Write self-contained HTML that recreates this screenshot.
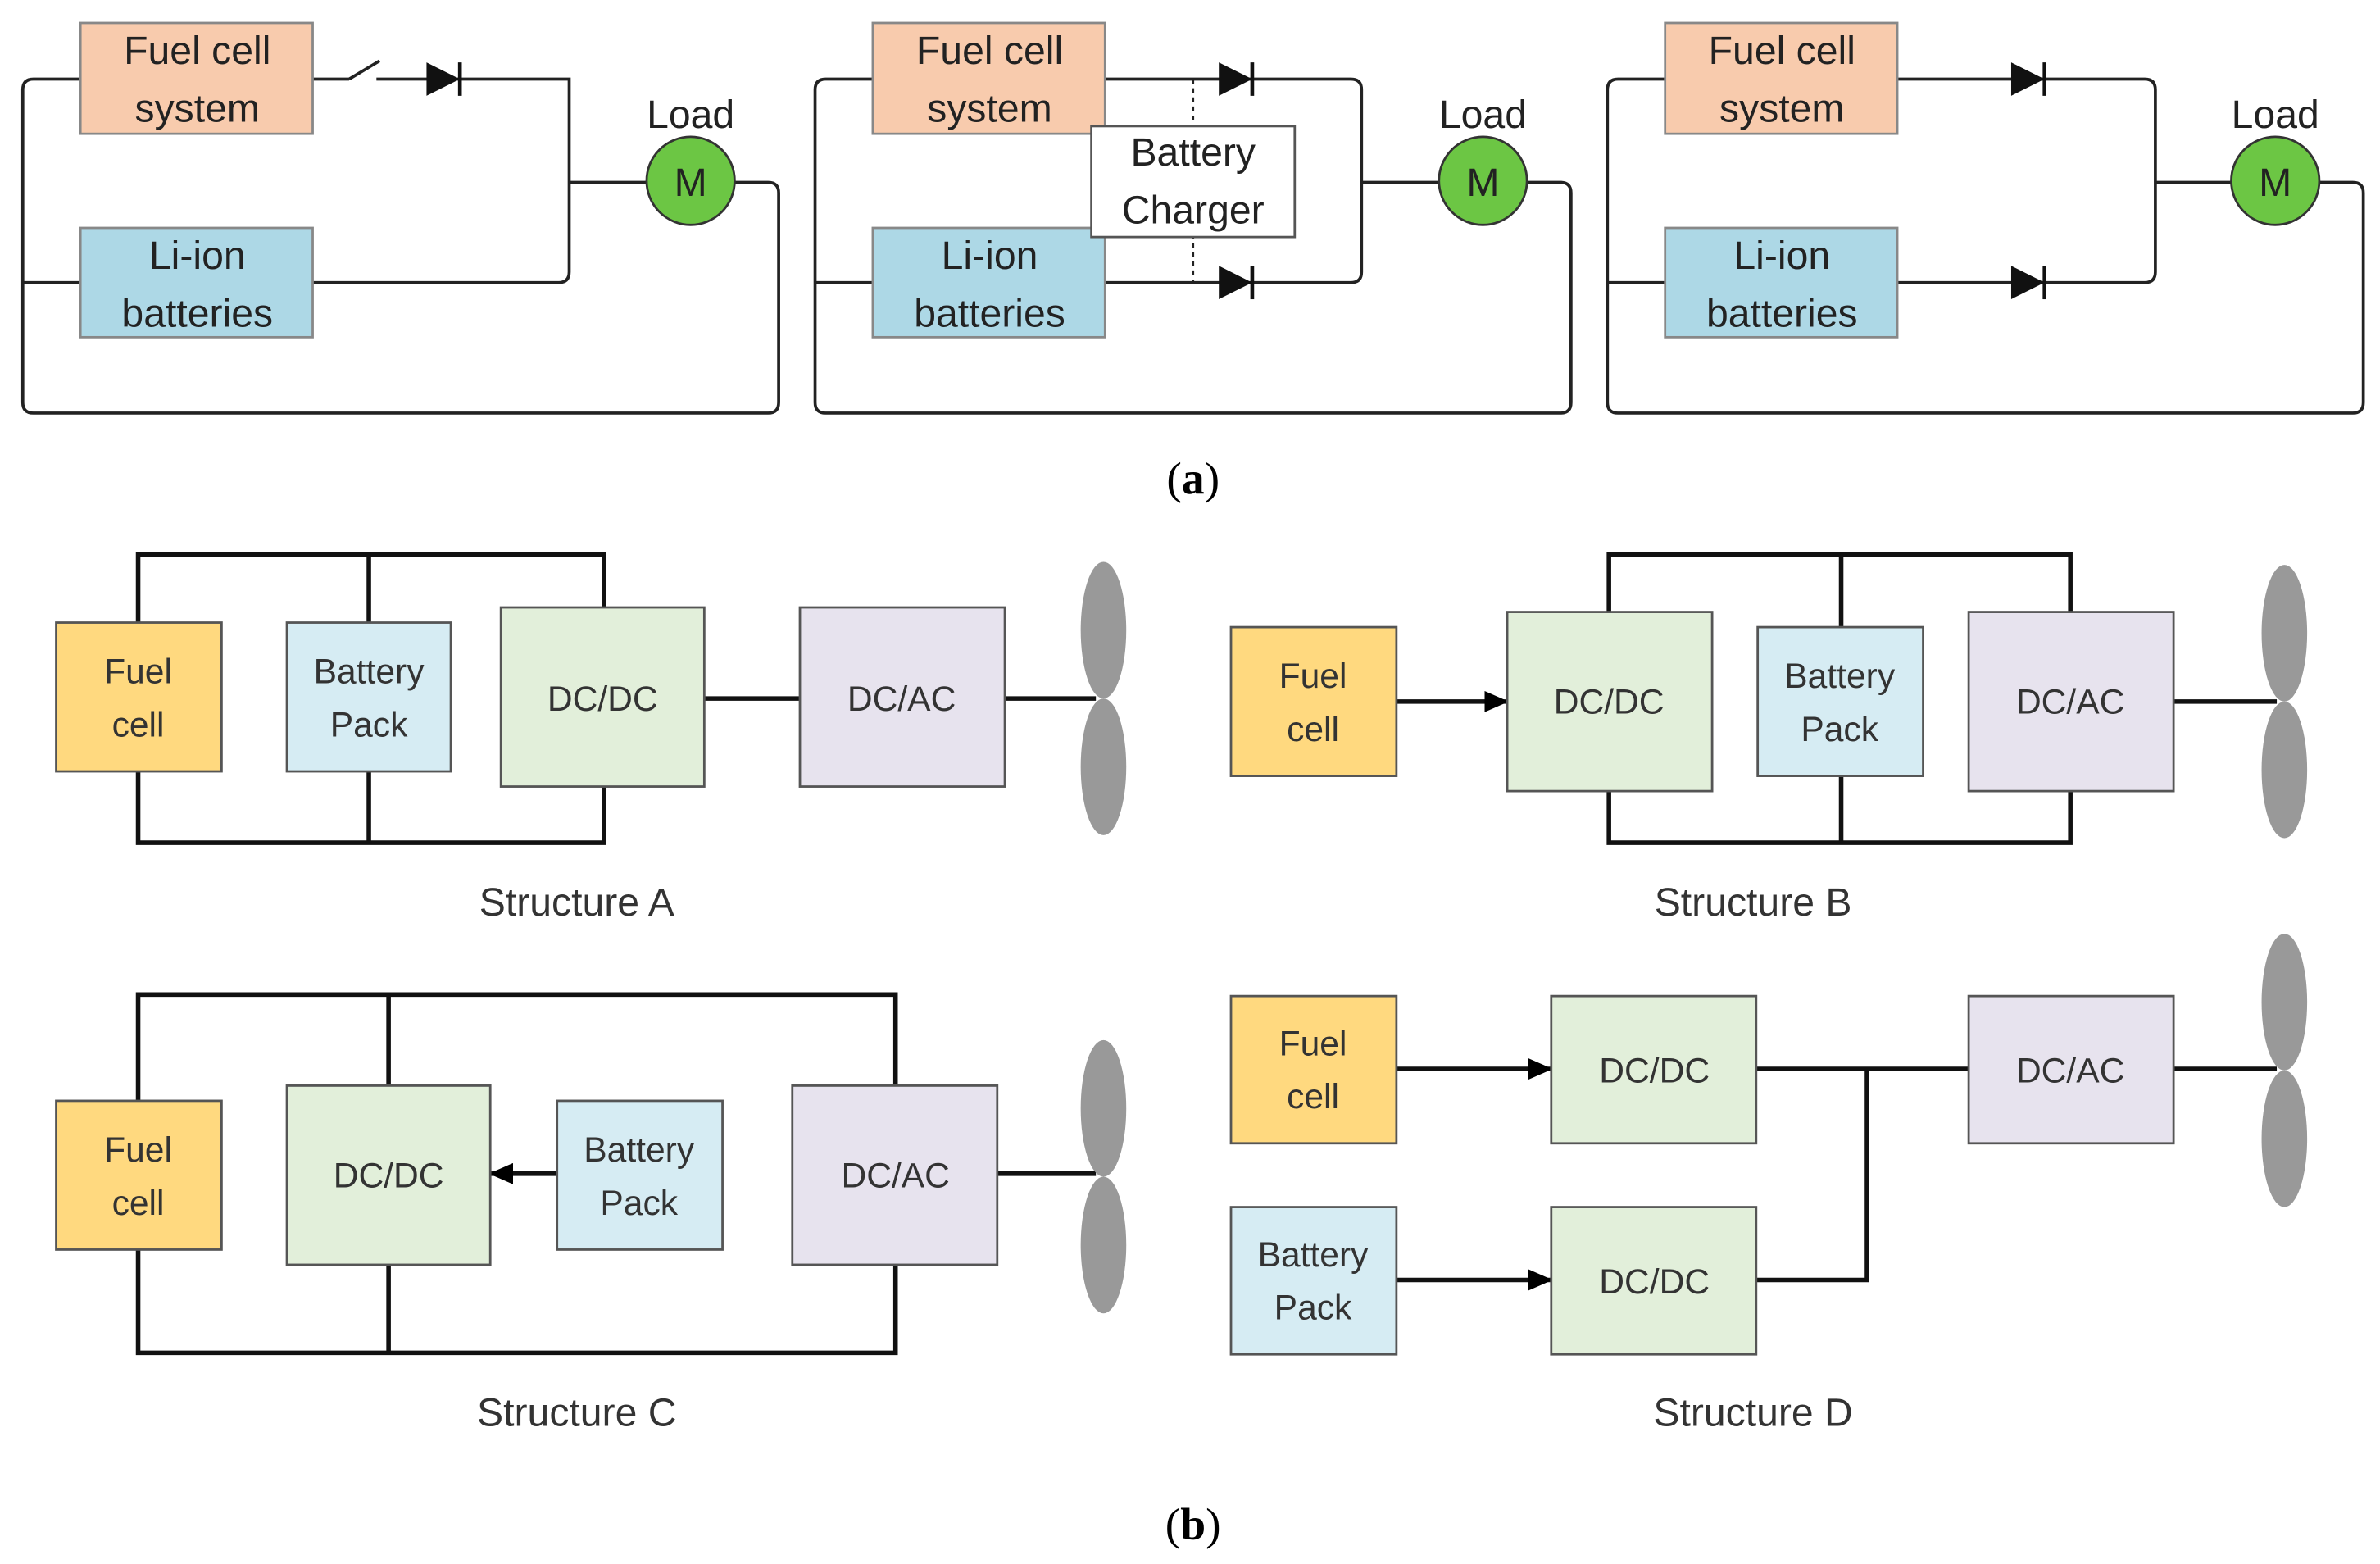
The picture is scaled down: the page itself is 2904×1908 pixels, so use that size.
<!DOCTYPE html>
<html><head><meta charset="utf-8"><style>html,body{margin:0;padding:0;background:#fff}svg{display:block}</style></head>
<body>
<svg width="2904" height="1908" viewBox="0 0 1568 1030" xmlns="http://www.w3.org/2000/svg" font-family="Liberation Sans, sans-serif">
<defs>
<marker id="ar" markerWidth="16" markerHeight="14" refX="15" refY="7" orient="auto" markerUnits="userSpaceOnUse"><path d="M0,0 L16,7 L0,14 z" fill="#000"/></marker>
<g id="dio"><path d="M0,-11 L22,0 L0,11 z" fill="#111"/><line x1="22" y1="-11" x2="22" y2="11" stroke="#111" stroke-width="2.5"/></g>
</defs>
<g fill="none" stroke="#222" stroke-width="2">
<path d="M53,52 H22 Q15,52 15,59 V265 Q15,272 22,272 H506 Q513,272 513,265 V127 Q513,120 506,120 H484"/>
<path d="M15,186 H53"/>
<path d="M206,52 H230 M230,52 L250,40 M248,52 H375 Q375,52 375,59 V179 Q375,186 368,186 H206"/>
<path d="M375,120 H426"/>
<path d="M575,52 H544 Q537,52 537,59 V265 Q537,272 544,272 H1028 Q1035,272 1035,265 V127 Q1035,120 1028,120 H1006"/>
<path d="M537,186 H575"/>
<path d="M728,52 H890 Q897,52 897,59 V179 Q897,186 890,186 H728"/>
<path d="M897,120 H948"/>
<path d="M786,52 V186" stroke-dasharray="3,3" stroke-width="1.5"/>
<path d="M1097,52 H1066 Q1059,52 1059,59 V265 Q1059,272 1066,272 H1550 Q1557,272 1557,265 V127 Q1557,120 1550,120 H1528"/>
<path d="M1059,186 H1097"/>
<path d="M1250,52 H1413 Q1420,52 1420,59 V179 Q1420,186 1413,186 H1250"/>
<path d="M1420,120 H1470"/>
</g>
<use href="#dio" x="281" y="52"/>
<use href="#dio" x="803" y="52"/><use href="#dio" x="803" y="186"/>
<use href="#dio" x="1325" y="52"/><use href="#dio" x="1325" y="186"/>
<g stroke="#888" stroke-width="1.5">
<rect x="53" y="15" width="153" height="73" fill="#f8cbad"/>
<rect x="53" y="150" width="153" height="72" fill="#add8e6"/>
<rect x="575" y="15" width="153" height="73" fill="#f8cbad"/>
<rect x="575" y="150" width="153" height="72" fill="#add8e6"/>
<rect x="1097" y="15" width="153" height="73" fill="#f8cbad"/>
<rect x="1097" y="150" width="153" height="72" fill="#add8e6"/>
<rect x="719" y="83" width="134" height="73" fill="#fff" stroke="#555"/>
</g>
<g fill="#6cc644" stroke="#333" stroke-width="1.5">
<circle cx="455" cy="119" r="29"/><circle cx="977" cy="119" r="29"/><circle cx="1499" cy="119" r="29"/>
</g>
<g font-size="26" text-anchor="middle" fill="#222">
<text x="130" y="42">Fuel cell</text><text x="130" y="80">system</text>
<text x="130" y="177">Li-ion</text><text x="130" y="215">batteries</text>
<text x="652" y="42">Fuel cell</text><text x="652" y="80">system</text>
<text x="652" y="177">Li-ion</text><text x="652" y="215">batteries</text>
<text x="1174" y="42">Fuel cell</text><text x="1174" y="80">system</text>
<text x="1174" y="177">Li-ion</text><text x="1174" y="215">batteries</text>
<text x="786" y="109">Battery</text><text x="786" y="147">Charger</text>
<text x="455" y="84">Load</text><text x="977" y="84">Load</text><text x="1499" y="84">Load</text>
<text x="455" y="129">M</text><text x="977" y="129">M</text><text x="1499" y="129">M</text>
</g>
<text x="786" y="325" font-size="30" text-anchor="middle" font-family="Liberation Serif, serif">(<tspan font-weight="bold">a</tspan>)</text>
<text x="786" y="1014" font-size="30" text-anchor="middle" font-family="Liberation Serif, serif">(<tspan font-weight="bold">b</tspan>)</text>
<g fill="none" stroke="#111" stroke-width="3">
<path d="M91,410 V365 H398 V400 M243,365 V410"/>
<path d="M91,508 V555 H398 V518 M243,508 V555"/>
<path d="M464,460 H527 M662,460 H722"/>
<path d="M1060,403 V365 H1364 V403 M1213,365 V413"/>
<path d="M1060,521 V555 H1364 V521 M1213,511 V555"/>
<path d="M1432,462 H1500"/>
<path d="M920,462 H993" marker-end="url(#ar)"/>
<path d="M91,725 V655 H590 V715 M256,655 V715"/>
<path d="M91,823 V891 H590 V833 M256,833 V891"/>
<path d="M657,773 H722"/>
<path d="M367,773 H323" marker-end="url(#ar)"/>
<path d="M920,704 H1022" marker-end="url(#ar)"/>
<path d="M920,843 H1022" marker-end="url(#ar)"/>
<path d="M1157,704 H1297 M1230,704 V843 H1157 M1432,704 H1500"/>
</g>
<g stroke="#555" stroke-width="1.5">
<rect x="37" y="410" width="109" height="98" fill="#ffd97f"/>
<rect x="189" y="410" width="108" height="98" fill="#d6ecf3"/>
<rect x="330" y="400" width="134" height="118" fill="#e2efda"/>
<rect x="527" y="400" width="135" height="118" fill="#e7e3ee"/>
<rect x="811" y="413" width="109" height="98" fill="#ffd97f"/>
<rect x="993" y="403" width="135" height="118" fill="#e2efda"/>
<rect x="1158" y="413" width="109" height="98" fill="#d6ecf3"/>
<rect x="1297" y="403" width="135" height="118" fill="#e7e3ee"/>
<rect x="37" y="725" width="109" height="98" fill="#ffd97f"/>
<rect x="189" y="715" width="134" height="118" fill="#e2efda"/>
<rect x="367" y="725" width="109" height="98" fill="#d6ecf3"/>
<rect x="522" y="715" width="135" height="118" fill="#e7e3ee"/>
<rect x="811" y="656" width="109" height="97" fill="#ffd97f"/>
<rect x="1022" y="656" width="135" height="97" fill="#e2efda"/>
<rect x="811" y="795" width="109" height="97" fill="#d6ecf3"/>
<rect x="1022" y="795" width="135" height="97" fill="#e2efda"/>
<rect x="1297" y="656" width="135" height="97" fill="#e7e3ee"/>
</g>
<g fill="#999">
<ellipse cx="727" cy="415" rx="15" ry="45"/><ellipse cx="727" cy="505" rx="15" ry="45"/>
<ellipse cx="1505" cy="417" rx="15" ry="45"/><ellipse cx="1505" cy="507" rx="15" ry="45"/>
<ellipse cx="727" cy="730" rx="15" ry="45"/><ellipse cx="727" cy="820" rx="15" ry="45"/>
<ellipse cx="1505" cy="660" rx="15" ry="45"/><ellipse cx="1505" cy="750" rx="15" ry="45"/>
</g>
<g font-size="23" text-anchor="middle" fill="#333">
<text x="91" y="450">Fuel</text><text x="91" y="485">cell</text>
<text x="243" y="450">Battery</text><text x="243" y="485">Pack</text>
<text x="397" y="468">DC/DC</text><text x="594" y="468">DC/AC</text>
<text x="865" y="453">Fuel</text><text x="865" y="488">cell</text>
<text x="1060" y="470">DC/DC</text>
<text x="1212" y="453">Battery</text><text x="1212" y="488">Pack</text>
<text x="1364" y="470">DC/AC</text>
<text x="91" y="765">Fuel</text><text x="91" y="800">cell</text>
<text x="256" y="782">DC/DC</text>
<text x="421" y="765">Battery</text><text x="421" y="800">Pack</text>
<text x="590" y="782">DC/AC</text>
<text x="865" y="695">Fuel</text><text x="865" y="730">cell</text>
<text x="1090" y="713">DC/DC</text><text x="1364" y="713">DC/AC</text>
<text x="865" y="834">Battery</text><text x="865" y="869">Pack</text>
<text x="1090" y="852">DC/DC</text>
</g>
<g font-size="26" text-anchor="middle" fill="#333">
<text x="380" y="603">Structure A</text><text x="1155" y="603">Structure B</text>
<text x="380" y="939">Structure C</text><text x="1155" y="939">Structure D</text>
</g>
</svg>
</body></html>
